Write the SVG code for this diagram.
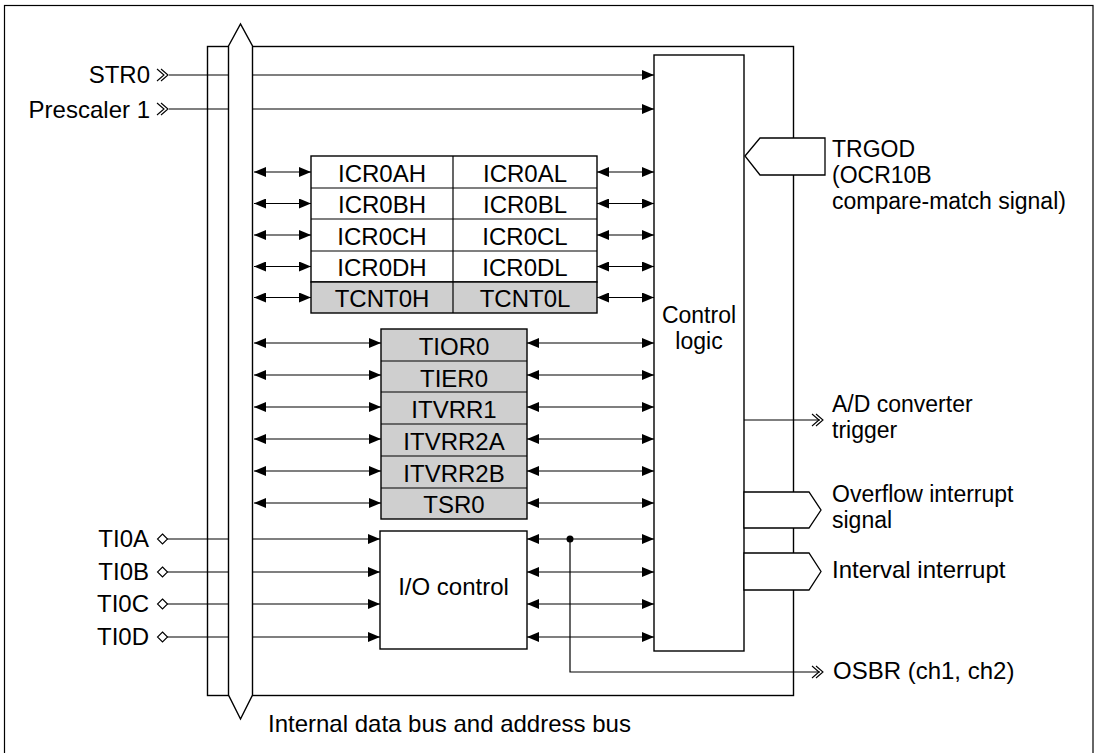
<svg xmlns="http://www.w3.org/2000/svg" width="1101" height="753" viewBox="0 0 1101 753">
<defs>
<marker id="ah" viewBox="0 0 12 10" refX="12" refY="5" markerWidth="12" markerHeight="10" markerUnits="userSpaceOnUse" orient="auto-start-reverse">
<path d="M0,0 L12,5 L0,10 z" fill="#000"/>
</marker>
<style>
text{font-family:"Liberation Sans",Arial,sans-serif;font-size:24px;fill:#000}
.m{font-size:23px}
.c{text-anchor:middle}
.e{text-anchor:end}
.ln{stroke:#000;stroke-width:1.2;fill:none}
.da{stroke:#000;stroke-width:1.2;fill:none;marker-start:url(#ah);marker-end:url(#ah)}
.sa{stroke:#000;stroke-width:1.2;fill:none;marker-end:url(#ah)}
.bx{fill:#fff;stroke:#000;stroke-width:1.4}
.g{fill:#cfcfcf;stroke:#000;stroke-width:1.4}
.sep{stroke:#000;stroke-width:1.2}
.chev{stroke:#000;stroke-width:1.1;fill:none}
</style>
</defs>
<rect x="4.5" y="5.5" width="1088.5" height="770" fill="#fff" stroke="#000" stroke-width="1.2"/>
<g id="frame">
<rect x="207.5" y="46.5" width="586" height="649" fill="none" stroke="#000" stroke-width="1.4"/>
</g>
<g id="connectors">
<line class="sa" x1="169" y1="75" x2="654" y2="75"/>
<line class="sa" x1="169" y1="109" x2="654" y2="109"/>
<polyline class="chev" points="157,69 164,75 157,81"/>
<polyline class="chev" points="161,69 168,75 161,81"/>
<polyline class="chev" points="157,103 164,109 157,115"/>
<polyline class="chev" points="161,103 168,109 161,115"/>
<line class="da" x1="254" y1="172" x2="311" y2="172"/>
<line class="da" x1="254" y1="203.5" x2="311" y2="203.5"/>
<line class="da" x1="254" y1="235" x2="311" y2="235"/>
<line class="da" x1="254" y1="266.5" x2="311" y2="266.5"/>
<line class="da" x1="254" y1="297.5" x2="311" y2="297.5"/>
<line class="da" x1="597" y1="172" x2="654" y2="172"/>
<line class="da" x1="597" y1="203.5" x2="654" y2="203.5"/>
<line class="da" x1="597" y1="235" x2="654" y2="235"/>
<line class="da" x1="597" y1="266.5" x2="654" y2="266.5"/>
<line class="da" x1="597" y1="297.5" x2="654" y2="297.5"/>
<line class="da" x1="254" y1="343" x2="381" y2="343"/>
<line class="da" x1="254" y1="375" x2="381" y2="375"/>
<line class="da" x1="254" y1="407" x2="381" y2="407"/>
<line class="da" x1="254" y1="439" x2="381" y2="439"/>
<line class="da" x1="254" y1="471" x2="381" y2="471"/>
<line class="da" x1="254" y1="503" x2="381" y2="503"/>
<line class="da" x1="527" y1="343" x2="654" y2="343"/>
<line class="da" x1="527" y1="375" x2="654" y2="375"/>
<line class="da" x1="527" y1="407" x2="654" y2="407"/>
<line class="da" x1="527" y1="439" x2="654" y2="439"/>
<line class="da" x1="527" y1="471" x2="654" y2="471"/>
<line class="da" x1="527" y1="503" x2="654" y2="503"/>
<line class="sa" x1="167" y1="539" x2="380" y2="539"/>
<line class="sa" x1="167" y1="572" x2="380" y2="572"/>
<line class="sa" x1="167" y1="604" x2="380" y2="604"/>
<line class="sa" x1="167" y1="637" x2="380" y2="637"/>
<polygon points="162.5,534 167.5,539 162.5,544 157.5,539" fill="#fff" stroke="#000" stroke-width="1.1"/>
<polygon points="162.5,567 167.5,572 162.5,577 157.5,572" fill="#fff" stroke="#000" stroke-width="1.1"/>
<polygon points="162.5,599 167.5,604 162.5,609 157.5,604" fill="#fff" stroke="#000" stroke-width="1.1"/>
<polygon points="162.5,632 167.5,637 162.5,642 157.5,637" fill="#fff" stroke="#000" stroke-width="1.1"/>
<line class="da" x1="527" y1="539" x2="654" y2="539"/>
<line class="da" x1="527" y1="572" x2="654" y2="572"/>
<line class="da" x1="527" y1="604" x2="654" y2="604"/>
<line class="da" x1="527" y1="637" x2="654" y2="637"/>
<circle cx="570" cy="539" r="3.5" fill="#000"/>
<polyline class="ln" points="570,539 570,672 820,672"/>
<polyline class="chev" points="812,666 819,672 812,678"/>
<polyline class="chev" points="816,666 823,672 816,678"/>
<line class="ln" x1="744" y1="420" x2="820" y2="420"/>
<polyline class="chev" points="812,414 819,420 812,426"/>
<polyline class="chev" points="816,414 823,420 816,426"/>
</g>
<g id="bus">
<polygon points="228.5,46 240.5,24 252.5,46 252.5,695 240.5,719 228.5,695" fill="#fff" stroke="#000" stroke-width="1.4"/>
</g>
<g id="labels-left">
<text class="e" x="150" y="83">STR0</text>
<text class="e" x="150" y="118">Prescaler 1</text>
<text class="e" x="149" y="547">TI0A</text>
<text class="e" x="149" y="580">TI0B</text>
<text class="e" x="149" y="612">TI0C</text>
<text class="e" x="149" y="645">TI0D</text>
<text x="268" y="732">Internal data bus and address bus</text>
</g>
<g id="reg-icr">
<rect class="bx" x="311" y="156" width="286" height="126"/>
<rect class="g" x="311" y="282" width="286" height="31"/>
<line class="sep" x1="311" y1="188" x2="597" y2="188"/>
<line class="sep" x1="311" y1="219" x2="597" y2="219"/>
<line class="sep" x1="311" y1="251" x2="597" y2="251"/>
<line class="sep" x1="453" y1="156" x2="453" y2="313"/>
<text class="c" x="382" y="181.5">ICR0AH</text>
<text class="c" x="525" y="181.5">ICR0AL</text>
<text class="c" x="382" y="213">ICR0BH</text>
<text class="c" x="525" y="213">ICR0BL</text>
<text class="c" x="382" y="244.5">ICR0CH</text>
<text class="c" x="525" y="244.5">ICR0CL</text>
<text class="c" x="382" y="276">ICR0DH</text>
<text class="c" x="525" y="276">ICR0DL</text>
<text class="c" x="382" y="307">TCNT0H</text>
<text class="c" x="525" y="307">TCNT0L</text>
</g>
<g id="reg-ctrl">
<rect class="g" x="381" y="329" width="146" height="190"/>
<line class="sep" x1="381" y1="361" x2="527" y2="361"/>
<line class="sep" x1="381" y1="392" x2="527" y2="392"/>
<line class="sep" x1="381" y1="424" x2="527" y2="424"/>
<line class="sep" x1="381" y1="456" x2="527" y2="456"/>
<line class="sep" x1="381" y1="488" x2="527" y2="488"/>
<text class="c" x="454" y="354.5">TIOR0</text>
<text class="c" x="454" y="386.5">TIER0</text>
<text class="c" x="454" y="417.5">ITVRR1</text>
<text class="c" x="454" y="449.5">ITVRR2A</text>
<text class="c" x="454" y="481.5">ITVRR2B</text>
<text class="c" x="454" y="513">TSR0</text>
</g>
<g id="io-control">
<rect class="bx" x="380" y="531" width="147" height="118"/>
<text class="c" x="453.5" y="595">I/O control</text>
</g>
<g id="control-logic">
<rect class="bx" x="654" y="55" width="90" height="596"/>
<text class="c m" x="699" y="323">Control</text>
<text class="c m" x="699" y="349">logic</text>
</g>
<g id="trgod">
<polygon points="745,156 760,138 825,138 825,175 760,175" fill="#fff" stroke="#000" stroke-width="1.3"/>
<text class="m" x="832" y="157">TRGOD</text>
<text class="m" x="832" y="183">(OCR10B</text>
<text class="m" x="832" y="209">compare-match signal)</text>
</g>
<g id="ad-trigger">
<text class="m" x="832" y="412">A/D converter</text>
<text class="m" x="832" y="438">trigger</text>
</g>
<g id="overflow">
<polygon points="744,492 809,492 821,510 809,528 744,528" fill="#fff" stroke="#000" stroke-width="1.3"/>
<text class="m" x="832" y="502">Overflow interrupt</text>
<text class="m" x="832" y="528">signal</text>
</g>
<g id="interval">
<polygon points="744,553 809,553 821,571.5 809,590 744,590" fill="#fff" stroke="#000" stroke-width="1.3"/>
<text x="832" y="578">Interval interrupt</text>
</g>
<g id="osbr">
<text x="833" y="679">OSBR (ch1, ch2)</text>
</g>
</svg>
